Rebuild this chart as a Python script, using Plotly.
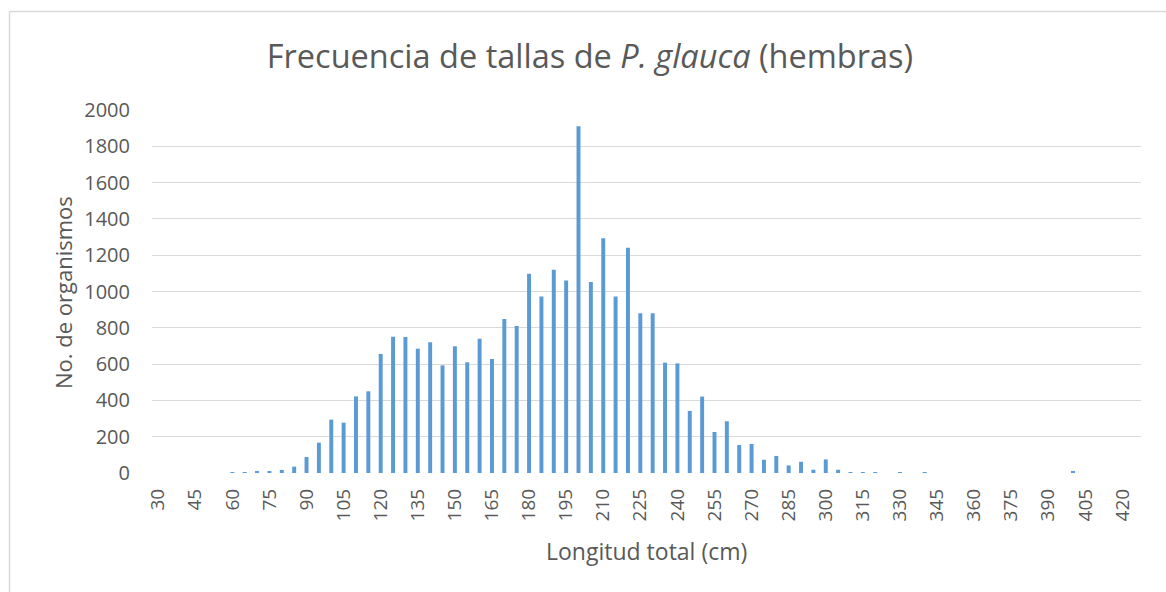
import plotly.graph_objects as go

# Length classes (cm) and number of females per class
longitud_cm = [30, 35, 40, 45, 50, 55, 60, 65, 70, 75,
               80, 85, 90, 95, 100, 105, 110, 115, 120, 125,
               130, 135, 140, 145, 150, 155, 160, 165, 170, 175,
               180, 185, 190, 195, 200, 205, 210, 215, 220, 225,
               230, 235, 240, 245, 250, 255, 260, 265, 270, 275,
               280, 285, 290, 295, 300, 305, 310, 315, 320, 325,
               330, 335, 340, 345, 350, 355, 360, 365, 370, 375,
               380, 385, 390, 395, 400, 405, 410, 415, 420, 425]
organismos = [0, 0, 0, 0, 0, 0, 2, 3, 11, 11,
              17, 35, 88, 167, 294, 277, 422, 450, 656, 751,
              749, 685, 720, 593, 698, 610, 740, 628, 848, 810,
              1098, 973, 1120, 1060, 1910, 1052, 1293, 973, 1241, 880,
              880, 608, 604, 342, 421, 226, 285, 154, 160, 73,
              94, 42, 62, 18, 75, 18, 5, 5, 5, 0,
              4, 0, 2, 0, 0, 0, 0, 0, 0, 0,
              0, 0, 0, 0, 7, 0, 0, 0, 0, 0]
x_ticks = [30, 45, 60, 75, 90, 105, 120, 135, 150, 165, 180, 195, 210,
           225, 240, 255, 270, 285, 300, 315, 330, 345, 360, 375, 390,
           405, 420]
y_ticks = [0, 200, 400, 600, 800, 1000, 1200, 1400, 1600, 1800, 2000]

W, H = 1166, 592
L, R, T, B = 152, 25, 110, 119
FONT = "Open Sans"
GREY = "#595959"


def px_x(p):
    return (p - L) / (W - L - R)


def px_y(p):
    return (H - B - p) / (H - T - B)


fig = go.Figure(go.Bar(
    x=longitud_cm,
    y=organismos,
    width=1.6,
    marker=dict(color="#5B9BD5", line=dict(width=0)),
))

fig.update_layout(
    width=W, height=H,
    margin=dict(l=L, r=R, t=T, b=B),
    paper_bgcolor="white",
    plot_bgcolor="white",
    showlegend=False,
    font=dict(family=FONT, color=GREY),
    title=dict(
        text="Frecuencia de tallas de <i>P. glauca</i> (hembras)",
        x=590 / W, xref="container", xanchor="center",
        y=1 - 57 / H, yref="container", yanchor="middle",
        font=dict(family=FONT, size=32.5, color=GREY),
    ),
    xaxis=dict(
        range=[27.5, 427.5],
        tickmode="array",
        tickvals=x_ticks,
        ticktext=[str(v) for v in x_ticks],
        tickangle=-90,
        tickfont=dict(family=FONT, size=19, color=GREY),
        showgrid=False, zeroline=False, showline=False,
        ticks="", ticklabelstandoff=11,
    ),
    yaxis=dict(
        range=[0, 2000],
        tickmode="array",
        tickvals=y_ticks,
        tickfont=dict(family=FONT, size=20, color=GREY),
        showgrid=True, gridcolor="#D9D9D9", gridwidth=1,
        zeroline=False, showline=False,
        ticks="", ticklabelstandoff=21,
    ),
    annotations=[
        dict(text="No. de organismos", textangle=-90,
             x=px_x(63), y=px_y(293), xref="paper", yref="paper",
             xanchor="center", yanchor="middle", showarrow=False,
             font=dict(family=FONT, size=22, color=GREY)),
        dict(text="Longitud total (cm)",
             x=px_x(646), y=px_y(551), xref="paper", yref="paper",
             xanchor="center", yanchor="middle", showarrow=False,
             font=dict(family=FONT, size=23, color=GREY)),
    ],
    shapes=[
        dict(type="line", xref="paper", yref="paper",
             x0=px_x(9.5), x1=px_x(W + 5), y0=px_y(11.5), y1=px_y(11.5),
             line=dict(color="#D9D9D9", width=1.5)),
        dict(type="line", xref="paper", yref="paper",
             x0=px_x(9.5), x1=px_x(9.5), y0=px_y(11.5), y1=px_y(H + 5),
             line=dict(color="#D9D9D9", width=1.5)),
    ],
)

fig.write_html("out.html")
